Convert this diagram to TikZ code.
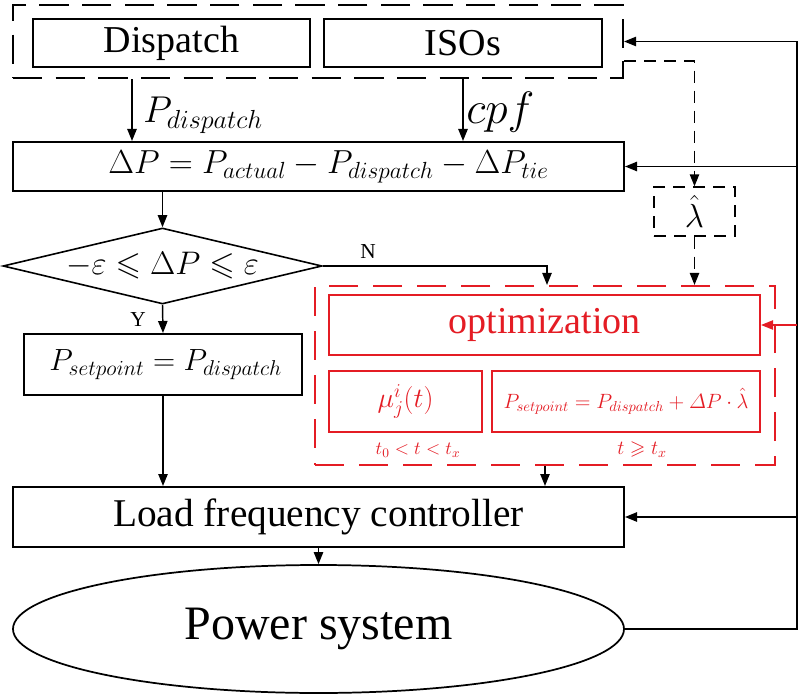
\RequirePackage{fix-cm}
\documentclass[tikz,border=0pt]{standalone}
\usepackage{amsmath,amssymb}
\usepackage{fontspec}
\setmainfont{LiberationSerif}[Extension=.ttf,UprightFont=*-Regular,ItalicFont=*-Italic,BoldFont=*-Bold]
\usetikzlibrary{arrows.meta,shapes.geometric,calc}
\definecolor{myred}{RGB}{228,28,36}
\begin{document}
\begin{tikzpicture}[x=0.75pt,y=-0.75pt,
  box/.style={draw,line width=1.5pt,inner sep=0pt},
  rbox/.style={draw=myred,text=myred,line width=1.6pt,inner sep=0pt},
  dbox/.style={draw,line width=1.6pt,dash pattern=on 22pt off 10pt,inner sep=0pt},
  rdbox/.style={draw=myred,line width=1.6pt,dash pattern=on 22pt off 11pt,inner sep=0pt},
  lbox/.style={draw,line width=1pt,dash pattern=on 9pt off 6pt,inner sep=0pt},
  arr/.style={line width=1.1pt,-{Triangle[length=9pt,width=7pt]}},
  darr/.style={line width=1.1pt,dash pattern=on 9pt off 6pt,-{Triangle[length=9pt,width=7pt]}},
  big/.style={font=\fontsize{28.5}{30}\selectfont},
  lab/.style={font=\fontsize{16}{18}\selectfont,inner sep=0pt}]
\useasboundingbox (0,0) rectangle (800,699);
% top group
\node[dbox,minimum width=457.5pt,minimum height=54.75pt] (outer) at (318,41.5) {};
\node[box,big,minimum width=207.75pt,minimum height=36pt] (disp) at (171.5,43) {Dispatch};
\node[box,big,minimum width=208.5pt,minimum height=36pt] (isos) at (463,43) {ISOs};
% delta P
\node[box,minimum width=458.25pt,minimum height=36.75pt,font=\fontsize{25}{27}\selectfont] (dp) at (318.5,166.5)
  {\hspace*{15pt}$\Delta P = P_{actual} - P_{dispatch} - \Delta P_{tie}$};
% lambda
\node[lbox,minimum width=60.75pt,minimum height=36.75pt,font=\fontsize{25}{27}\selectfont] (lam) at (694.5,211.5) {$\hat{\lambda}$};
% diamond
\node[diamond,draw,line width=1.2pt,inner sep=0pt,minimum width=239.25pt,minimum height=57pt] (dia) at (162.5,266) {};
\node[font=\fontsize{24.5}{26}\selectfont,inner sep=0pt] (diat) at (dia.center) {$-\varepsilon \leqslant \Delta P \leqslant \varepsilon$};
% setpoint box
\node[box,minimum width=208.5pt,minimum height=45.75pt,font=\fontsize{23}{25}\selectfont] (pset) at (163,364.5)
  {\hspace*{4pt}$P_{setpoint} = P_{dispatch}$};
% red group
\node[rdbox,minimum width=345pt,minimum height=134.25pt] (red) at (545,375.5) {};
\node[rbox,big,minimum width=323.25pt,minimum height=45pt] (opt) at (544.5,325) {optimization};
\node[rbox,minimum width=114.75pt,minimum height=45.75pt,font=\fontsize{21}{23}\selectfont] (mu) at (405.5,401.5) {$\mu_j^i(t)$};
\node[rbox,minimum width=201pt,minimum height=45.75pt,font=\fontsize{15.5}{17}\selectfont] (ps2) at (626,401.5)
  {$P_{setpoint} = P_{dispatch} + \varDelta P\cdot\hat{\lambda}$};
\node[text=myred,inner sep=0pt,font=\fontsize{14}{16}\selectfont] (t1) at (418,450) {$t_0 < t < t_x$};
\node[text=myred,inner sep=0pt,font=\fontsize{15}{17}\selectfont] (t2) at (642,450) {$t \geqslant t_x$};
% LFC and power system
\node[box,minimum width=458.25pt,minimum height=45pt,font=\fontsize{29.5}{31}\selectfont] (lfc) at (318.5,517) {Load frequency controller};
\node[ellipse,draw,line width=1.3pt,inner sep=0pt,minimum width=458.25pt,minimum height=96pt,font=\fontsize{36}{38}\selectfont] (ps) at (318.5,629) {Power system};
% labels
\node[anchor=west,inner sep=0pt,font=\fontsize{28}{30}\selectfont] (lpd) at (143,115) {$P_{dispatch}$};
\node[anchor=west,inner sep=0pt,font=\fontsize{34}{36}\selectfont] (lcpf) at (466,112) {$cpf$};
\node[lab] (lN) at (368,252) {N};
\node[lab] (lY) at (138,320) {Y};
% coordinates
\coordinate (xa) at (132,0);
\coordinate (xn) at (547,0);
\coordinate (R1) at (797,0);
% connectors
\draw[arr] (outer.south -| xa) -- (dp.north -| xa);
\draw[arr] (outer.south -| isos.center) -- (dp.north -| isos.center);
\draw[arr] (dp.south -| dia.north) -- (dia.north);
\draw[arr] (dia.south) -- (pset.north);
\draw[arr] (pset.south) -- (pset.south |- lfc.north);
\draw[arr] (dia.east) -| (xn |- red.north);
\draw[arr] (red.south) -- (red.south |- lfc.north);
\draw[arr] (lfc.south) -- (ps.north);
\draw[arr] (ps.east) -| (R1 |- outer.east) -- (outer.east);
\draw[arr] (R1 |- dp.east) -- (dp.east);
\draw[arr,myred] (R1 |- opt.east) -- (opt.east);
\draw[arr] (R1 |- lfc.east) -- (lfc.east);
\draw[darr] ($(outer.east)+(0,19.5)$) -| (lam.north);
\draw[darr] (lam.south) -- (lam.south |- red.north);
\end{tikzpicture}
\end{document}
